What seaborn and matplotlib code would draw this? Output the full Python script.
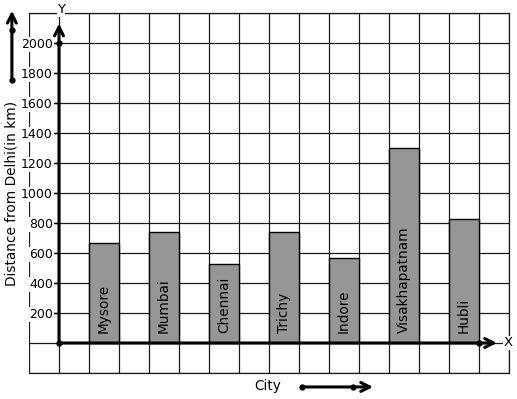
import numpy as np
import matplotlib
matplotlib.use('Agg')
import matplotlib.pyplot as plt
import seaborn as sns
import pandas as pd

cities = ['Mysore', 'Mumbai', 'Chennai', 'Trichy', 'Indore', 'Visakhapatnam', 'Hubli']
distances = [665, 740, 525, 740, 570, 1300, 830]
y_tick_values = [200, 400, 600, 800, 1000, 1200, 1400, 1600, 1800, 2000]

sns.set_style('white')
plt.rcParams['font.family'] = ['DejaVu Sans']
plt.rcParams['text.color'] = 'black'
plt.rcParams['ytick.color'] = 'black'

fig = plt.figure(figsize=(5.17, 3.99), dpi=100)
ax = fig.add_axes([29 / 517, 1 - 373 / 399, 480 / 517, 360 / 399])

# bar i sits in the cell [2i+1, 2i+2]
df = pd.DataFrame({'city': cities, 'dist': distances})
df['pos'] = np.arange(len(cities)) * 2 + 1.5
sns.barplot(data=df, x='pos', y='dist', native_scale=True, width=0.5,
            color='#969696', saturation=1, edgecolor='black', linewidth=1,
            ax=ax, zorder=2)

ax.set_xlim(-1, 15)
ax.set_ylim(-200, 2200)
ax.set_xlabel('')
ax.set_ylabel('')

# move the y axis to x = 0 first (this resets the tick objects)
ax.spines['left'].set_position(('data', 0))
ax.spines['left'].set_visible(False)
for s in ['top', 'right', 'bottom']:
    ax.spines[s].set_visible(True)
    ax.spines[s].set_color('#1a1a1a')
    ax.spines[s].set_linewidth(0.9)

# grid lines every cell; y grid = major ticks so the labels cover them
grid_y = np.arange(-200, 2201, 200)
ax.set_xticks(np.arange(-1, 16))
ax.set_xticklabels([])
ax.set_yticks(grid_y)
ax.set_yticklabels([str(v) if v in y_tick_values else '' for v in grid_y])
ax.grid(True, color='#1a1a1a', linewidth=0.9)
ax.set_axisbelow(True)
ax.tick_params(axis='x', length=0)
ax.tick_params(axis='y', length=4, width=1, color='black', pad=0.5, left=True, labelsize=9)
for tick, v in zip(ax.yaxis.get_major_ticks(), grid_y):
    tick.label1.set_bbox(dict(facecolor='white', edgecolor='none', pad=0.5))
    if v not in y_tick_values:
        tick.tick1line.set_visible(False)

# city names inside the bars
for p, name in zip(df['pos'], cities):
    ax.text(p, 65, name, rotation=90, ha='center', va='bottom', fontsize=9.8, zorder=3)

arrow = dict(arrowstyle='->', lw=2.2, color='black', mutation_scale=16, shrinkA=0, shrinkB=0)
ax.annotate('', xy=(0, 2130), xytext=(0, 0), arrowprops=arrow, annotation_clip=False, zorder=4)
ax.annotate('', xy=(14.6, 0), xytext=(0, 0), arrowprops=arrow, annotation_clip=False, zorder=4)
ax.plot([0, 0, 14], [0, 2000, 0], 'o', color='black', ms=3.5, zorder=5)
ax.text(0.07, 2220, 'Y', ha='center', va='center', fontsize=9.5,
        bbox=dict(facecolor='white', edgecolor='none', pad=0.3), zorder=5)
ax.text(14.97, 0, 'X', ha='center', va='center', fontsize=9.5,
        bbox=dict(facecolor='white', edgecolor='none', pad=0.3), zorder=5)

# side arrow next to the y label
ax.annotate('', xy=(-1.57, 2215), xytext=(-1.57, 1755), arrowprops=arrow, annotation_clip=False)
ax.plot([-1.57, -1.57], [1755, 2085], 'o', color='black', ms=3.5, clip_on=False)
ax.text(-1.57, 1000, 'Distance from Delhi(in km)', rotation=90, ha='center', va='center', fontsize=9.8)

# bottom arrow next to the x label
ax.annotate('', xy=(10.47, -293), xytext=(8.1, -293), arrowprops=arrow, annotation_clip=False)
ax.plot([8.1, 9.8], [-293, -293], 'o', color='black', ms=3.5, clip_on=False)
ax.text(6.97, -287, 'City', ha='center', va='center', fontsize=9.8)

fig.savefig('out.png', dpi=100)
